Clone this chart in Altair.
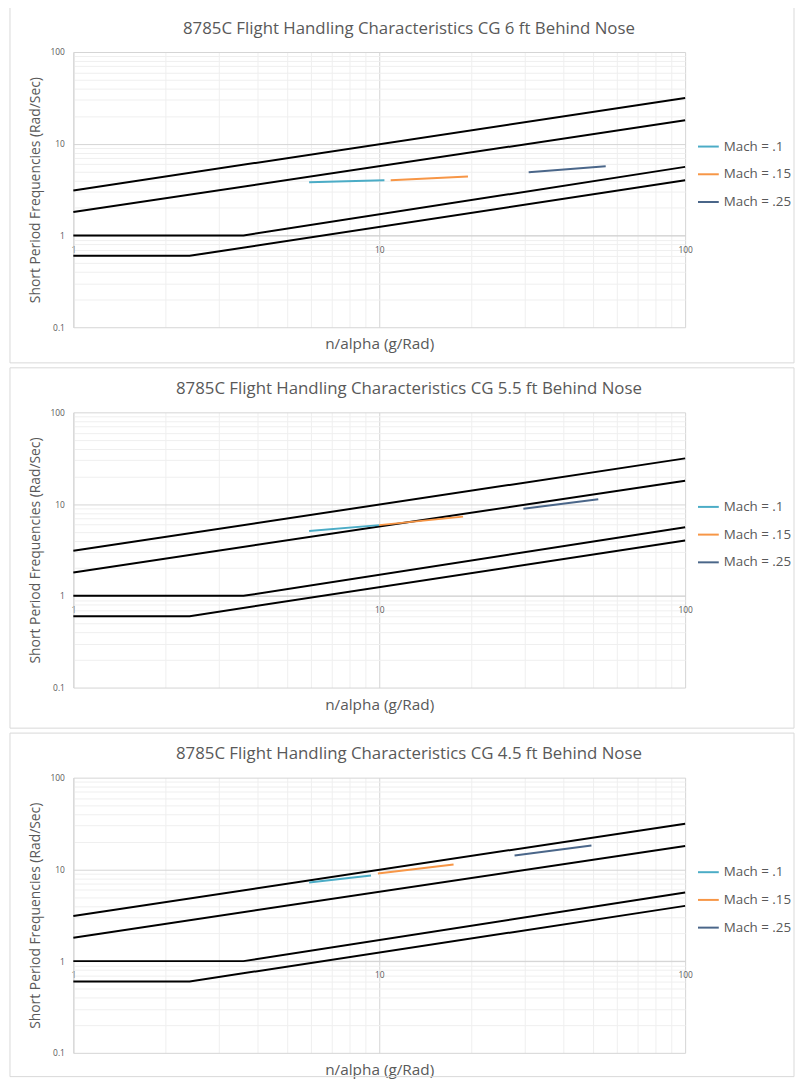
import altair as alt
import pandas as pd

# ---------------- data ----------------
panel_titles = [
    "8785C Flight Handling Characteristics CG 6 ft Behind Nose",
    "8785C Flight Handling Characteristics CG 5.5 ft Behind Nose",
    "8785C Flight Handling Characteristics CG 4.5 ft Behind Nose",
]
series_names = ["Mach = .1", "Mach = .15", "Mach = .25"]
series_colors = ["#4BACC6", "#F79646", "#4A6689"]

# boundary lines (same on every panel)
bound_names = ["upper_l2", "upper_l1", "lower_l1", "lower_l2"]
bound_x = [[1, 100], [1, 100], [1, 3.6, 100], [1, 2.4, 100]]
bound_y = [[3.1, 31.5], [1.8, 18.0], [1.0, 1.0, 5.6], [0.6, 0.6, 4.0]]

# panel 1 (CG 6 ft)
p1_m10_x = [5.9, 7.8, 10.4]
p1_m10_y = [3.8, 3.9, 4.0]
p1_m15_x = [10.9, 19.5]
p1_m15_y = [4.0, 4.4]
p1_m25_x = [30.8, 55.0]
p1_m25_y = [4.9, 5.7]
# panel 2 (CG 5.5 ft)
p2_m10_x = [5.9, 10.0]
p2_m10_y = [5.1, 5.9]
p2_m15_x = [10.0, 18.8]
p2_m15_y = [5.9, 7.3]
p2_m25_x = [29.6, 52.0]
p2_m25_y = [8.9, 11.3]
# panel 3 (CG 4.5 ft)
p3_m10_x = [5.9, 9.4]
p3_m10_y = [7.2, 8.6]
p3_m15_x = [9.9, 17.5]
p3_m15_y = [9.0, 11.3]
p3_m25_x = [27.7, 49.4]
p3_m25_y = [14.2, 18.2]

# axis tick / grid values
x_grid = [1, 2, 3, 4, 5, 6, 7, 8, 9, 10, 20, 30, 40, 50, 60, 70, 80, 90, 100]
y_grid = [0.1, 0.2, 0.3, 0.4, 0.5, 0.6, 0.7, 0.8, 0.9,
          1, 2, 3, 4, 5, 6, 7, 8, 9, 10, 20, 30, 40, 50, 60, 70, 80, 90, 100]
x_labels = [1, 10, 100]
y_labels = [0.1, 1, 10, 100]

panels_series = [
    [(p1_m10_x, p1_m10_y), (p1_m15_x, p1_m15_y), (p1_m25_x, p1_m25_y)],
    [(p2_m10_x, p2_m10_y), (p2_m15_x, p2_m15_y), (p2_m25_x, p2_m25_y)],
    [(p3_m10_x, p3_m10_y), (p3_m15_x, p3_m15_y), (p3_m25_x, p3_m25_y)],
]

# ---------------- style ----------------
W, H = 618, 278
FONT = "Open Sans"
TXT = "#595959"
MAJOR = "#d4d4d4"
MINOR = "#efefef"

bound_rows = []
for name, xs, ys in zip(bound_names, bound_x, bound_y):
    for i, (xv, yv) in enumerate(zip(xs, ys)):
        bound_rows.append({"line": name, "order": i, "x": xv, "y": yv})
bound_df = pd.DataFrame(bound_rows)


def grid_color(vals):
    test = "indexof([" + ",".join(str(v) for v in vals) + "], datum.value) >= 0"
    return {"condition": {"test": test, "value": MAJOR}, "value": MINOR}


def label_expr(vals):
    return ("indexof([" + ",".join(str(v) for v in vals) +
            "], datum.value) >= 0 ? format(datum.value, '~g') : ''")


def make_panel(title, series, frame_bottom):
    rows = []
    for name, (xs, ys) in zip(series_names, series):
        for i, (xv, yv) in enumerate(zip(xs, ys)):
            rows.append({"series": name, "order": i, "x": xv, "y": yv})
    sdf = pd.DataFrame(rows)

    xscale = alt.Scale(type="log", domain=[1, 100], nice=False)
    yscale = alt.Scale(type="log", domain=[0.1, 100], nice=False)

    xaxis = alt.Axis(
        values=x_grid, labelExpr=label_expr(x_labels), title="n/alpha (g/Rad)",
        offset=-H / 3, ticks=False, tickSize=0, labelPadding=10, labelFlush=False,
        labelFontSize=8.5, labelColor=TXT, labelFont=FONT,
        titleFont=FONT, titleFontSize=15.5, titleFontWeight="normal", titleColor=TXT,
        titlePadding=84, domainColor=MAJOR, gridColor=grid_color(x_labels),
        gridWidth=1, labelOverlap=False,
    )
    yaxis = alt.Axis(
        values=y_grid, labelExpr=label_expr(y_labels),
        title="Short Period Frequencies (Rad/Sec)",
        ticks=False, tickSize=0, labelPadding=9, labelFlush=False,
        labelFontSize=8.5, labelColor=TXT, labelFont=FONT,
        titleFont=FONT, titleFontSize=14, titleFontWeight="normal", titleColor=TXT,
        titlePadding=8, domainColor=MAJOR, gridColor=grid_color(y_labels),
        gridWidth=1, labelOverlap=False,
    )

    frame = alt.Chart(pd.DataFrame({"f": [0]})).mark_rect(
        fill="transparent", stroke="#d9d9d9", strokeWidth=1
    ).encode(
        x=alt.value(-64), x2=alt.value(W + 110),
        y=alt.value(-45), y2=alt.value(H + frame_bottom),
    )

    bounds = alt.Chart(bound_df).mark_line(color="black", strokeWidth=2).encode(
        x=alt.X("x:Q", scale=xscale, axis=xaxis),
        y=alt.Y("y:Q", scale=yscale, axis=yaxis),
        detail="line:N",
        order="order:Q",
    )

    lines = alt.Chart(sdf).mark_line(strokeWidth=2).encode(
        x=alt.X("x:Q", scale=xscale),
        y=alt.Y("y:Q", scale=yscale),
        color=alt.Color(
            "series:N",
            scale=alt.Scale(domain=series_names, range=series_colors),
            legend=alt.Legend(
                title=None, orient="none", legendX=W + 12, legendY=84,
                symbolType="stroke", symbolSize=441, symbolStrokeWidth=2,
                labelFont=FONT, labelFontSize=13.5, labelColor=TXT,
                rowPadding=10, padding=0, labelOffset=4,
            ),
        ),
        order="order:Q",
    )

    return alt.layer(frame, bounds, lines).properties(
        width=W, height=H,
        title=alt.TitleParams(
            text=title, font=FONT, fontSize=17, fontWeight="normal", color=TXT,
            anchor="middle", offset=-44, baseline="alphabetic", dx=30,
        ),
    )


charts = [
    make_panel(panel_titles[0], panels_series[0], 36),
    make_panel(panel_titles[1], panels_series[1], 41),
    make_panel(panel_titles[2], panels_series[2], 24),
]

chart = alt.vconcat(*charts, spacing=3).resolve_scale(
    color="independent"
).resolve_legend(color="independent").properties(
    padding={"left": 1, "top": -7, "right": 1, "bottom": 1}
).configure_view(stroke=None)

chart.save("out.html", embed_options={"renderer": "svg", "actions": False})
